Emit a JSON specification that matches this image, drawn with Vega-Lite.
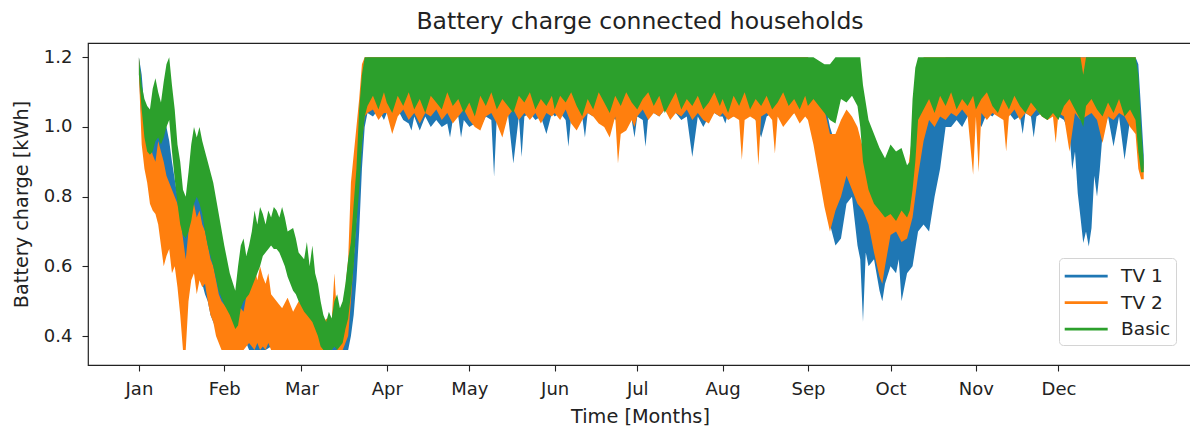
{
"$schema":"https://vega.github.io/schema/vega-lite/v6.json",
"width":1104,"height":322,
"autosize":{"type":"none"},
"padding":{"left":88,"top":43,"right":-2,"bottom":65},
"background":"white",
"title":{"text":"Battery charge connected households","fontSize":23.5,"fontWeight":"normal","font":"DejaVu Sans","color":"#222","anchor":"middle","frame":"group","baseline":"alphabetic","offset":15,"dy":24},
"datasets":{
"tv1":[
{"d":"2019-01-01","lo":1.15,"hi":1.2},{"d":"2019-01-02","lo":1.0,"hi":1.15},{"d":"2019-01-03","lo":0.92,"hi":1.05},{"d":"2019-01-04","lo":0.86,"hi":1.0},{"d":"2019-01-06","lo":0.85,"hi":1.0},{"d":"2019-01-08","lo":0.85,"hi":1.0},{"d":"2019-01-09","lo":0.8,"hi":1.03},{"d":"2019-01-10","lo":0.84,"hi":1.05},{"d":"2019-01-11","lo":0.82,"hi":1.0},{"d":"2019-01-12","lo":0.74,"hi":0.96},{"d":"2019-01-13","lo":0.7,"hi":0.9},{"d":"2019-01-14","lo":0.64,"hi":0.85},{"d":"2019-01-15","lo":0.6,"hi":0.8},{"d":"2019-01-16","lo":0.56,"hi":0.72},{"d":"2019-01-17","lo":0.58,"hi":0.7},{"d":"2019-01-18","lo":0.58,"hi":0.74},{"d":"2019-01-19","lo":0.6,"hi":0.8},{"d":"2019-01-20","lo":0.62,"hi":0.84},{"d":"2019-01-21","lo":0.62,"hi":0.86},{"d":"2019-01-22","lo":0.6,"hi":0.82},{"d":"2019-01-23","lo":0.58,"hi":0.8},{"d":"2019-01-24","lo":0.55,"hi":0.76},{"d":"2019-01-25","lo":0.52,"hi":0.72},{"d":"2019-01-26","lo":0.5,"hi":0.68},{"d":"2019-01-27","lo":0.46,"hi":0.64},{"d":"2019-01-29","lo":0.42,"hi":0.58},{"d":"2019-01-31","lo":0.4,"hi":0.54},
{"d":"2019-02-02","lo":0.38,"hi":0.52},{"d":"2019-02-04","lo":0.38,"hi":0.5},{"d":"2019-02-06","lo":0.36,"hi":0.54},{"d":"2019-02-08","lo":0.4,"hi":0.55},{"d":"2019-02-10","lo":0.36,"hi":0.53},{"d":"2019-02-12","lo":0.36,"hi":0.54},{"d":"2019-02-14","lo":0.36,"hi":0.5},{"d":"2019-02-16","lo":0.36,"hi":0.48},{"d":"2019-02-18","lo":0.37,"hi":0.46},{"d":"2019-02-20","lo":0.38,"hi":0.49},{"d":"2019-02-22","lo":0.38,"hi":0.48},{"d":"2019-02-24","lo":0.37,"hi":0.47},{"d":"2019-02-26","lo":0.37,"hi":0.46},{"d":"2019-02-28","lo":0.36,"hi":0.44},
{"d":"2019-03-04","lo":0.36,"hi":0.44},{"d":"2019-03-08","lo":0.36,"hi":0.43},{"d":"2019-03-12","lo":0.36,"hi":0.44},{"d":"2019-03-16","lo":0.36,"hi":0.45},{"d":"2019-03-18","lo":0.36,"hi":0.5},{"d":"2019-03-19","lo":0.4,"hi":0.55},{"d":"2019-03-20","lo":0.46,"hi":0.62},{"d":"2019-03-21","lo":0.56,"hi":0.74},{"d":"2019-03-22","lo":0.7,"hi":0.9},{"d":"2019-03-23","lo":0.88,"hi":1.05},{"d":"2019-03-24","lo":1.0,"hi":1.15},{"d":"2019-03-25","lo":1.04,"hi":1.2},{"d":"2019-03-27","lo":1.03,"hi":1.2},{"d":"2019-03-29","lo":1.05,"hi":1.2},{"d":"2019-03-31","lo":1.02,"hi":1.2},
{"d":"2019-04-01","lo":1.04,"hi":1.2},{"d":"2019-04-03","lo":1.03,"hi":1.2},{"d":"2019-04-05","lo":1.05,"hi":1.2},{"d":"2019-04-07","lo":1.02,"hi":1.2},{"d":"2019-04-09","lo":1.01,"hi":1.2},{"d":"2019-04-10","lo":0.99,"hi":1.2},{"d":"2019-04-11","lo":1.03,"hi":1.2},{"d":"2019-04-13","lo":0.99,"hi":1.2},{"d":"2019-04-15","lo":1.03,"hi":1.2},{"d":"2019-04-17","lo":1.0,"hi":1.2},{"d":"2019-04-19","lo":1.02,"hi":1.2},{"d":"2019-04-21","lo":1.0,"hi":1.2},{"d":"2019-04-23","lo":1.01,"hi":1.2},{"d":"2019-04-24","lo":0.97,"hi":1.2},{"d":"2019-04-25","lo":1.02,"hi":1.2},{"d":"2019-04-27","lo":1.03,"hi":1.2},{"d":"2019-04-28","lo":0.97,"hi":1.2},{"d":"2019-04-29","lo":1.02,"hi":1.2},
{"d":"2019-05-01","lo":1.0,"hi":1.2},{"d":"2019-05-03","lo":1.01,"hi":1.2},{"d":"2019-05-05","lo":1.0,"hi":1.2},{"d":"2019-05-07","lo":1.03,"hi":1.2},{"d":"2019-05-09","lo":1.02,"hi":1.2},{"d":"2019-05-10","lo":0.857,"hi":1.2},{"d":"2019-05-11","lo":1.03,"hi":1.2},{"d":"2019-05-13","lo":1.02,"hi":1.2},{"d":"2019-05-15","lo":1.04,"hi":1.2},{"d":"2019-05-17","lo":0.895,"hi":1.2},{"d":"2019-05-19","lo":1.03,"hi":1.2},{"d":"2019-05-20","lo":0.914,"hi":1.2},{"d":"2019-05-21","lo":1.03,"hi":1.2},{"d":"2019-05-23","lo":1.04,"hi":1.2},{"d":"2019-05-25","lo":1.02,"hi":1.2},{"d":"2019-05-27","lo":1.03,"hi":1.2},{"d":"2019-05-29","lo":0.98,"hi":1.2},{"d":"2019-05-31","lo":1.04,"hi":1.2},
{"d":"2019-06-01","lo":1.03,"hi":1.2},{"d":"2019-06-03","lo":1.04,"hi":1.2},{"d":"2019-06-05","lo":1.02,"hi":1.2},{"d":"2019-06-06","lo":0.943,"hi":1.2},{"d":"2019-06-07","lo":1.03,"hi":1.2},{"d":"2019-06-09","lo":1.04,"hi":1.2},{"d":"2019-06-11","lo":1.03,"hi":1.2},{"d":"2019-06-12","lo":0.97,"hi":1.2},{"d":"2019-06-13","lo":1.04,"hi":1.2},{"d":"2019-06-15","lo":1.03,"hi":1.2},{"d":"2019-06-17","lo":1.05,"hi":1.2},{"d":"2019-06-19","lo":1.03,"hi":1.2},{"d":"2019-06-21","lo":1.04,"hi":1.2},{"d":"2019-06-23","lo":1.02,"hi":1.2},{"d":"2019-06-25","lo":1.04,"hi":1.2},{"d":"2019-06-27","lo":1.03,"hi":1.2},{"d":"2019-06-29","lo":1.02,"hi":1.2},{"d":"2019-06-30","lo":0.97,"hi":1.2},
{"d":"2019-07-01","lo":1.03,"hi":1.2},{"d":"2019-07-03","lo":1.02,"hi":1.2},{"d":"2019-07-04","lo":0.943,"hi":1.2},{"d":"2019-07-05","lo":1.03,"hi":1.2},{"d":"2019-07-07","lo":1.04,"hi":1.2},{"d":"2019-07-09","lo":1.03,"hi":1.2},{"d":"2019-07-11","lo":1.05,"hi":1.2},{"d":"2019-07-13","lo":1.03,"hi":1.2},{"d":"2019-07-15","lo":1.04,"hi":1.2},{"d":"2019-07-17","lo":1.02,"hi":1.2},{"d":"2019-07-19","lo":1.03,"hi":1.2},{"d":"2019-07-21","lo":0.914,"hi":1.2},{"d":"2019-07-23","lo":1.03,"hi":1.2},{"d":"2019-07-25","lo":1.0,"hi":1.2},{"d":"2019-07-27","lo":1.03,"hi":1.2},{"d":"2019-07-29","lo":1.04,"hi":1.2},{"d":"2019-07-31","lo":1.03,"hi":1.2},
{"d":"2019-08-01","lo":1.03,"hi":1.2},{"d":"2019-08-02","lo":1.01,"hi":1.2},{"d":"2019-08-03","lo":1.04,"hi":1.2},{"d":"2019-08-05","lo":1.03,"hi":1.2},{"d":"2019-08-07","lo":1.04,"hi":1.2},{"d":"2019-08-09","lo":1.03,"hi":1.2},{"d":"2019-08-11","lo":1.04,"hi":1.2},{"d":"2019-08-13","lo":1.02,"hi":1.2},{"d":"2019-08-15","lo":0.97,"hi":1.2},{"d":"2019-08-17","lo":1.03,"hi":1.2},{"d":"2019-08-19","lo":1.04,"hi":1.2},{"d":"2019-08-21","lo":1.03,"hi":1.2},{"d":"2019-08-23","lo":1.04,"hi":1.2},{"d":"2019-08-25","lo":1.03,"hi":1.2},{"d":"2019-08-27","lo":1.04,"hi":1.2},{"d":"2019-08-29","lo":1.03,"hi":1.2},{"d":"2019-08-31","lo":1.04,"hi":1.2},
{"d":"2019-09-01","lo":1.04,"hi":1.2},{"d":"2019-09-03","lo":1.0,"hi":1.18},{"d":"2019-09-05","lo":0.93,"hi":1.15},{"d":"2019-09-07","lo":0.82,"hi":1.08},{"d":"2019-09-09","lo":0.72,"hi":1.0},{"d":"2019-09-11","lo":0.66,"hi":0.95},{"d":"2019-09-13","lo":0.68,"hi":0.95},{"d":"2019-09-15","lo":0.78,"hi":1.0},{"d":"2019-09-17","lo":0.8,"hi":1.0},{"d":"2019-09-19","lo":0.66,"hi":0.92},{"d":"2019-09-20","lo":0.62,"hi":0.9},{"d":"2019-09-21","lo":0.44,"hi":0.88},{"d":"2019-09-22","lo":0.64,"hi":0.86},{"d":"2019-09-23","lo":0.6,"hi":0.85},{"d":"2019-09-25","lo":0.62,"hi":0.82},{"d":"2019-09-27","lo":0.53,"hi":0.76},{"d":"2019-09-28","lo":0.5,"hi":0.72},{"d":"2019-09-29","lo":0.55,"hi":0.74},
{"d":"2019-10-01","lo":0.6,"hi":0.74},{"d":"2019-10-03","lo":0.58,"hi":0.74},{"d":"2019-10-04","lo":0.62,"hi":0.76},{"d":"2019-10-05","lo":0.5,"hi":0.74},{"d":"2019-10-07","lo":0.58,"hi":0.78},{"d":"2019-10-09","lo":0.6,"hi":0.85},{"d":"2019-10-11","lo":0.7,"hi":0.92},{"d":"2019-10-13","lo":0.72,"hi":0.98},{"d":"2019-10-15","lo":0.7,"hi":1.05},{"d":"2019-10-17","lo":0.8,"hi":1.1},{"d":"2019-10-19","lo":0.88,"hi":1.15},{"d":"2019-10-21","lo":1.0,"hi":1.2},{"d":"2019-10-23","lo":1.0,"hi":1.2},{"d":"2019-10-25","lo":1.02,"hi":1.2},{"d":"2019-10-27","lo":1.0,"hi":1.2},{"d":"2019-10-29","lo":1.03,"hi":1.2},{"d":"2019-10-31","lo":1.04,"hi":1.2},
{"d":"2019-11-01","lo":1.03,"hi":1.2},{"d":"2019-11-03","lo":1.0,"hi":1.2},{"d":"2019-11-05","lo":1.04,"hi":1.2},{"d":"2019-11-07","lo":1.03,"hi":1.2},{"d":"2019-11-09","lo":1.05,"hi":1.2},{"d":"2019-11-11","lo":1.03,"hi":1.2},{"d":"2019-11-13","lo":1.04,"hi":1.2},{"d":"2019-11-15","lo":1.02,"hi":1.2},{"d":"2019-11-17","lo":1.03,"hi":1.2},{"d":"2019-11-18","lo":0.98,"hi":1.2},{"d":"2019-11-19","lo":1.04,"hi":1.2},{"d":"2019-11-21","lo":1.03,"hi":1.2},{"d":"2019-11-22","lo":0.97,"hi":1.2},{"d":"2019-11-23","lo":1.03,"hi":1.2},{"d":"2019-11-25","lo":1.04,"hi":1.2},{"d":"2019-11-27","lo":1.02,"hi":1.2},{"d":"2019-11-29","lo":1.04,"hi":1.2},
{"d":"2019-12-01","lo":1.03,"hi":1.2},{"d":"2019-12-03","lo":1.02,"hi":1.2},{"d":"2019-12-05","lo":0.98,"hi":1.2},{"d":"2019-12-06","lo":0.877,"hi":1.2},{"d":"2019-12-07","lo":0.93,"hi":1.2},{"d":"2019-12-08","lo":0.81,"hi":1.2},{"d":"2019-12-09","lo":0.74,"hi":1.2},{"d":"2019-12-10","lo":0.667,"hi":1.2},{"d":"2019-12-11","lo":0.7,"hi":1.2},{"d":"2019-12-12","lo":0.657,"hi":1.2},{"d":"2019-12-13","lo":0.71,"hi":1.2},{"d":"2019-12-14","lo":0.86,"hi":1.2},{"d":"2019-12-15","lo":0.8,"hi":1.2},{"d":"2019-12-16","lo":0.877,"hi":1.2},{"d":"2019-12-17","lo":0.98,"hi":1.2},{"d":"2019-12-19","lo":1.03,"hi":1.2},{"d":"2019-12-21","lo":0.944,"hi":1.2},{"d":"2019-12-23","lo":1.03,"hi":1.2},{"d":"2019-12-25","lo":0.906,"hi":1.2},{"d":"2019-12-27","lo":1.02,"hi":1.2},{"d":"2019-12-29","lo":1.0,"hi":1.2},{"d":"2019-12-30","lo":0.95,"hi":1.18},{"d":"2019-12-31","lo":0.88,"hi":1.05},{"d":"2019-12-31T23:00","lo":0.88,"hi":0.92}
],
"tv2":[
{"d":"2019-01-01","lo":1.15,"hi":1.2},{"d":"2019-01-02","lo":0.95,"hi":1.1},{"d":"2019-01-03","lo":0.88,"hi":1.0},{"d":"2019-01-04","lo":0.84,"hi":0.98},{"d":"2019-01-05","lo":0.78,"hi":0.95},{"d":"2019-01-06","lo":0.76,"hi":0.92},{"d":"2019-01-07","lo":0.75,"hi":0.9},{"d":"2019-01-08","lo":0.72,"hi":0.96},{"d":"2019-01-09","lo":0.66,"hi":0.93},{"d":"2019-01-10","lo":0.6,"hi":0.9},{"d":"2019-01-11","lo":0.63,"hi":0.86},{"d":"2019-01-12","lo":0.65,"hi":0.84},{"d":"2019-01-13","lo":0.58,"hi":0.82},{"d":"2019-01-14","lo":0.6,"hi":0.8},{"d":"2019-01-15","lo":0.54,"hi":0.78},{"d":"2019-01-16","lo":0.46,"hi":0.74},{"d":"2019-01-17","lo":0.36,"hi":0.68},{"d":"2019-01-18","lo":0.36,"hi":0.62},{"d":"2019-01-19","lo":0.5,"hi":0.7},{"d":"2019-01-20","lo":0.56,"hi":0.76},{"d":"2019-01-21","lo":0.58,"hi":0.78},{"d":"2019-01-22","lo":0.52,"hi":0.74},{"d":"2019-01-23","lo":0.56,"hi":0.76},{"d":"2019-01-24","lo":0.54,"hi":0.72},{"d":"2019-01-25","lo":0.55,"hi":0.7},{"d":"2019-01-26","lo":0.5,"hi":0.66},{"d":"2019-01-27","lo":0.46,"hi":0.62},{"d":"2019-01-28","lo":0.44,"hi":0.6},{"d":"2019-01-29","lo":0.4,"hi":0.56},{"d":"2019-01-30","lo":0.38,"hi":0.52},{"d":"2019-01-31","lo":0.36,"hi":0.5},
{"d":"2019-02-02","lo":0.36,"hi":0.48},{"d":"2019-02-04","lo":0.36,"hi":0.46},{"d":"2019-02-06","lo":0.36,"hi":0.49},{"d":"2019-02-08","lo":0.36,"hi":0.47},{"d":"2019-02-10","lo":0.38,"hi":0.56},{"d":"2019-02-11","lo":0.37,"hi":0.58},{"d":"2019-02-12","lo":0.36,"hi":0.6},{"d":"2019-02-13","lo":0.38,"hi":0.56},{"d":"2019-02-14","lo":0.36,"hi":0.6},{"d":"2019-02-15","lo":0.37,"hi":0.57},{"d":"2019-02-16","lo":0.36,"hi":0.55},{"d":"2019-02-17","lo":0.38,"hi":0.58},{"d":"2019-02-18","lo":0.36,"hi":0.52},{"d":"2019-02-20","lo":0.36,"hi":0.5},{"d":"2019-02-22","lo":0.36,"hi":0.48},{"d":"2019-02-24","lo":0.36,"hi":0.51},{"d":"2019-02-26","lo":0.36,"hi":0.47},{"d":"2019-02-28","lo":0.36,"hi":0.5},
{"d":"2019-03-02","lo":0.36,"hi":0.48},{"d":"2019-03-04","lo":0.36,"hi":0.46},{"d":"2019-03-06","lo":0.36,"hi":0.44},{"d":"2019-03-08","lo":0.36,"hi":0.42},{"d":"2019-03-10","lo":0.36,"hi":0.45},{"d":"2019-03-12","lo":0.36,"hi":0.44},{"d":"2019-03-13","lo":0.38,"hi":0.58},{"d":"2019-03-14","lo":0.36,"hi":0.45},{"d":"2019-03-16","lo":0.36,"hi":0.46},{"d":"2019-03-18","lo":0.4,"hi":0.62},{"d":"2019-03-19","lo":0.5,"hi":0.84},{"d":"2019-03-20","lo":0.62,"hi":0.92},{"d":"2019-03-21","lo":0.75,"hi":1.0},{"d":"2019-03-22","lo":0.86,"hi":1.08},{"d":"2019-03-23","lo":0.96,"hi":1.18},{"d":"2019-03-24","lo":1.03,"hi":1.2},{"d":"2019-03-25","lo":1.04,"hi":1.2},{"d":"2019-03-27","lo":1.05,"hi":1.2},{"d":"2019-03-29","lo":1.02,"hi":1.2},{"d":"2019-03-31","lo":1.04,"hi":1.2},
{"d":"2019-04-01","lo":1.04,"hi":1.2},{"d":"2019-04-03","lo":0.98,"hi":1.2},{"d":"2019-04-05","lo":1.03,"hi":1.2},{"d":"2019-04-07","lo":1.05,"hi":1.2},{"d":"2019-04-09","lo":1.02,"hi":1.2},{"d":"2019-04-11","lo":1.04,"hi":1.2},{"d":"2019-04-13","lo":1.01,"hi":1.2},{"d":"2019-04-15","lo":1.04,"hi":1.2},{"d":"2019-04-17","lo":1.03,"hi":1.2},{"d":"2019-04-19","lo":1.05,"hi":1.2},{"d":"2019-04-21","lo":1.02,"hi":1.2},{"d":"2019-04-23","lo":1.04,"hi":1.2},{"d":"2019-04-25","lo":1.01,"hi":1.2},{"d":"2019-04-27","lo":1.03,"hi":1.2},{"d":"2019-04-29","lo":1.05,"hi":1.2},
{"d":"2019-05-01","lo":1.02,"hi":1.2},{"d":"2019-05-03","lo":1.0,"hi":1.2},{"d":"2019-05-05","lo":0.99,"hi":1.2},{"d":"2019-05-07","lo":1.03,"hi":1.2},{"d":"2019-05-09","lo":1.04,"hi":1.2},{"d":"2019-05-11","lo":1.01,"hi":1.2},{"d":"2019-05-13","lo":0.97,"hi":1.2},{"d":"2019-05-15","lo":1.03,"hi":1.2},{"d":"2019-05-17","lo":1.05,"hi":1.2},{"d":"2019-05-19","lo":1.02,"hi":1.2},{"d":"2019-05-21","lo":1.04,"hi":1.2},{"d":"2019-05-23","lo":1.02,"hi":1.2},{"d":"2019-05-25","lo":1.04,"hi":1.2},{"d":"2019-05-27","lo":1.01,"hi":1.2},{"d":"2019-05-29","lo":1.04,"hi":1.2},{"d":"2019-05-31","lo":1.03,"hi":1.2},
{"d":"2019-06-01","lo":1.04,"hi":1.2},{"d":"2019-06-03","lo":1.02,"hi":1.2},{"d":"2019-06-05","lo":1.05,"hi":1.2},{"d":"2019-06-07","lo":1.01,"hi":1.2},{"d":"2019-06-09","lo":0.99,"hi":1.2},{"d":"2019-06-11","lo":1.02,"hi":1.2},{"d":"2019-06-13","lo":1.04,"hi":1.2},{"d":"2019-06-15","lo":1.03,"hi":1.2},{"d":"2019-06-17","lo":1.01,"hi":1.2},{"d":"2019-06-19","lo":1.0,"hi":1.2},{"d":"2019-06-21","lo":0.97,"hi":1.2},{"d":"2019-06-23","lo":1.03,"hi":1.2},{"d":"2019-06-24","lo":0.895,"hi":1.2},{"d":"2019-06-25","lo":0.98,"hi":1.2},{"d":"2019-06-27","lo":0.99,"hi":1.2},{"d":"2019-06-29","lo":1.02,"hi":1.2},{"d":"2019-06-30","lo":1.0,"hi":1.2},
{"d":"2019-07-01","lo":1.03,"hi":1.2},{"d":"2019-07-03","lo":1.05,"hi":1.2},{"d":"2019-07-05","lo":1.02,"hi":1.2},{"d":"2019-07-07","lo":1.04,"hi":1.2},{"d":"2019-07-09","lo":1.03,"hi":1.2},{"d":"2019-07-11","lo":1.05,"hi":1.2},{"d":"2019-07-13","lo":1.02,"hi":1.2},{"d":"2019-07-15","lo":1.04,"hi":1.2},{"d":"2019-07-17","lo":1.03,"hi":1.2},{"d":"2019-07-19","lo":1.05,"hi":1.2},{"d":"2019-07-21","lo":1.02,"hi":1.2},{"d":"2019-07-23","lo":1.04,"hi":1.2},{"d":"2019-07-25","lo":1.02,"hi":1.2},{"d":"2019-07-27","lo":1.01,"hi":1.2},{"d":"2019-07-29","lo":1.04,"hi":1.2},{"d":"2019-07-31","lo":1.03,"hi":1.2},
{"d":"2019-08-01","lo":1.04,"hi":1.2},{"d":"2019-08-03","lo":1.02,"hi":1.2},{"d":"2019-08-05","lo":1.03,"hi":1.2},{"d":"2019-08-07","lo":1.02,"hi":1.2},{"d":"2019-08-08","lo":0.905,"hi":1.2},{"d":"2019-08-09","lo":1.02,"hi":1.2},{"d":"2019-08-11","lo":1.03,"hi":1.2},{"d":"2019-08-13","lo":1.02,"hi":1.2},{"d":"2019-08-14","lo":0.89,"hi":1.2},{"d":"2019-08-15","lo":1.03,"hi":1.2},{"d":"2019-08-17","lo":1.04,"hi":1.2},{"d":"2019-08-19","lo":1.02,"hi":1.2},{"d":"2019-08-20","lo":0.924,"hi":1.2},{"d":"2019-08-21","lo":1.03,"hi":1.2},{"d":"2019-08-23","lo":1.0,"hi":1.2},{"d":"2019-08-25","lo":1.02,"hi":1.2},{"d":"2019-08-27","lo":1.04,"hi":1.2},{"d":"2019-08-29","lo":1.01,"hi":1.2},{"d":"2019-08-31","lo":1.03,"hi":1.2},
{"d":"2019-09-01","lo":1.02,"hi":1.2},{"d":"2019-09-03","lo":0.95,"hi":1.15},{"d":"2019-09-05","lo":0.86,"hi":1.12},{"d":"2019-09-07","lo":0.77,"hi":1.05},{"d":"2019-09-09","lo":0.7,"hi":0.98},{"d":"2019-09-11","lo":0.76,"hi":0.98},{"d":"2019-09-13","lo":0.8,"hi":1.02},{"d":"2019-09-15","lo":0.86,"hi":1.05},{"d":"2019-09-17","lo":0.82,"hi":1.03},{"d":"2019-09-19","lo":0.78,"hi":1.0},{"d":"2019-09-21","lo":0.76,"hi":0.94},{"d":"2019-09-23","lo":0.72,"hi":0.9},{"d":"2019-09-25","lo":0.64,"hi":0.84},{"d":"2019-09-27","lo":0.57,"hi":0.8},{"d":"2019-09-28","lo":0.55,"hi":0.78},{"d":"2019-09-29","lo":0.6,"hi":0.8},
{"d":"2019-10-01","lo":0.69,"hi":0.81},{"d":"2019-10-03","lo":0.7,"hi":0.78},{"d":"2019-10-05","lo":0.67,"hi":0.8},{"d":"2019-10-07","lo":0.68,"hi":0.86},{"d":"2019-10-09","lo":0.74,"hi":0.98},{"d":"2019-10-11","lo":0.86,"hi":1.1},{"d":"2019-10-13","lo":0.96,"hi":1.2},{"d":"2019-10-15","lo":1.02,"hi":1.2},{"d":"2019-10-17","lo":1.0,"hi":1.2},{"d":"2019-10-19","lo":1.03,"hi":1.2},{"d":"2019-10-21","lo":1.02,"hi":1.2},{"d":"2019-10-23","lo":1.04,"hi":1.2},{"d":"2019-10-25","lo":1.03,"hi":1.2},{"d":"2019-10-27","lo":1.05,"hi":1.2},{"d":"2019-10-29","lo":1.03,"hi":1.2},{"d":"2019-10-31","lo":0.863,"hi":1.2},
{"d":"2019-11-01","lo":1.03,"hi":1.2},{"d":"2019-11-02","lo":0.87,"hi":1.2},{"d":"2019-11-03","lo":1.04,"hi":1.2},{"d":"2019-11-05","lo":1.02,"hi":1.2},{"d":"2019-11-07","lo":1.04,"hi":1.2},{"d":"2019-11-09","lo":1.03,"hi":1.2},{"d":"2019-11-11","lo":1.02,"hi":1.2},{"d":"2019-11-12","lo":0.93,"hi":1.2},{"d":"2019-11-13","lo":1.03,"hi":1.2},{"d":"2019-11-15","lo":1.05,"hi":1.2},{"d":"2019-11-17","lo":1.02,"hi":1.2},{"d":"2019-11-19","lo":1.04,"hi":1.2},{"d":"2019-11-21","lo":1.03,"hi":1.2},{"d":"2019-11-23","lo":1.05,"hi":1.2},{"d":"2019-11-25","lo":1.03,"hi":1.2},{"d":"2019-11-27","lo":1.02,"hi":1.2},{"d":"2019-11-29","lo":1.03,"hi":1.2},{"d":"2019-11-30","lo":0.954,"hi":1.2},
{"d":"2019-12-01","lo":1.04,"hi":1.2},{"d":"2019-12-03","lo":1.03,"hi":1.2},{"d":"2019-12-05","lo":0.93,"hi":1.2},{"d":"2019-12-07","lo":1.04,"hi":1.2},{"d":"2019-12-09","lo":1.02,"hi":1.2},{"d":"2019-12-11","lo":1.03,"hi":1.2},{"d":"2019-12-13","lo":1.04,"hi":1.2},{"d":"2019-12-15","lo":1.02,"hi":1.2},{"d":"2019-12-17","lo":0.954,"hi":1.2},{"d":"2019-12-19","lo":1.03,"hi":1.2},{"d":"2019-12-21","lo":1.02,"hi":1.2},{"d":"2019-12-23","lo":1.04,"hi":1.2},{"d":"2019-12-25","lo":1.03,"hi":1.2},{"d":"2019-12-27","lo":1.0,"hi":1.2},{"d":"2019-12-29","lo":0.98,"hi":1.2},{"d":"2019-12-30","lo":0.88,"hi":1.1},{"d":"2019-12-31","lo":0.85,"hi":0.95},{"d":"2019-12-31T23:00","lo":0.85,"hi":0.88}
],
"basic":[
{"d":"2019-01-01","lo":1.15,"hi":1.2},{"d":"2019-01-02","lo":1.05,"hi":1.12},{"d":"2019-01-03","lo":0.97,"hi":1.08},{"d":"2019-01-04","lo":0.93,"hi":1.06},{"d":"2019-01-05","lo":0.92,"hi":1.05},{"d":"2019-01-06","lo":0.93,"hi":1.11},{"d":"2019-01-07","lo":0.96,"hi":1.14},{"d":"2019-01-08","lo":0.97,"hi":1.1},{"d":"2019-01-09","lo":0.95,"hi":1.07},{"d":"2019-01-10","lo":0.97,"hi":1.13},{"d":"2019-01-11","lo":1.0,"hi":1.18},{"d":"2019-01-12","lo":1.02,"hi":1.2},{"d":"2019-01-13","lo":0.93,"hi":1.12},{"d":"2019-01-14","lo":0.85,"hi":1.05},{"d":"2019-01-15","lo":0.78,"hi":0.95},{"d":"2019-01-16","lo":0.72,"hi":0.9},{"d":"2019-01-17","lo":0.69,"hi":0.82},{"d":"2019-01-18","lo":0.68,"hi":0.8},{"d":"2019-01-19","lo":0.7,"hi":0.87},{"d":"2019-01-20","lo":0.73,"hi":0.95},{"d":"2019-01-21","lo":0.78,"hi":1.0},{"d":"2019-01-22","lo":0.8,"hi":0.97},{"d":"2019-01-23","lo":0.78,"hi":1.0},{"d":"2019-01-24","lo":0.75,"hi":0.96},{"d":"2019-01-25","lo":0.7,"hi":0.93},{"d":"2019-01-26","lo":0.66,"hi":0.9},{"d":"2019-01-28","lo":0.6,"hi":0.84},{"d":"2019-01-30","lo":0.53,"hi":0.75},
{"d":"2019-02-01","lo":0.49,"hi":0.66},{"d":"2019-02-03","lo":0.46,"hi":0.58},{"d":"2019-02-05","lo":0.42,"hi":0.53},{"d":"2019-02-06","lo":0.43,"hi":0.6},{"d":"2019-02-07","lo":0.48,"hi":0.66},{"d":"2019-02-08","lo":0.5,"hi":0.68},{"d":"2019-02-09","lo":0.51,"hi":0.63},{"d":"2019-02-10","lo":0.52,"hi":0.66},{"d":"2019-02-11","lo":0.54,"hi":0.7},{"d":"2019-02-12","lo":0.56,"hi":0.76},{"d":"2019-02-13","lo":0.58,"hi":0.72},{"d":"2019-02-14","lo":0.6,"hi":0.77},{"d":"2019-02-15","lo":0.63,"hi":0.75},{"d":"2019-02-16","lo":0.64,"hi":0.72},{"d":"2019-02-17","lo":0.65,"hi":0.76},{"d":"2019-02-18","lo":0.66,"hi":0.74},{"d":"2019-02-19","lo":0.65,"hi":0.77},{"d":"2019-02-20","lo":0.65,"hi":0.76},{"d":"2019-02-21","lo":0.64,"hi":0.74},{"d":"2019-02-22","lo":0.62,"hi":0.77},{"d":"2019-02-23","lo":0.6,"hi":0.74},{"d":"2019-02-24","lo":0.57,"hi":0.7},{"d":"2019-02-26","lo":0.53,"hi":0.71},{"d":"2019-02-27","lo":0.52,"hi":0.68},{"d":"2019-02-28","lo":0.5,"hi":0.64},
{"d":"2019-03-02","lo":0.47,"hi":0.62},{"d":"2019-03-03","lo":0.46,"hi":0.67},{"d":"2019-03-04","lo":0.45,"hi":0.6},{"d":"2019-03-05","lo":0.44,"hi":0.66},{"d":"2019-03-06","lo":0.42,"hi":0.58},{"d":"2019-03-07","lo":0.4,"hi":0.55},{"d":"2019-03-08","lo":0.37,"hi":0.5},{"d":"2019-03-09","lo":0.36,"hi":0.46},{"d":"2019-03-10","lo":0.36,"hi":0.44},{"d":"2019-03-11","lo":0.36,"hi":0.47},{"d":"2019-03-12","lo":0.36,"hi":0.45},{"d":"2019-03-13","lo":0.37,"hi":0.5},{"d":"2019-03-14","lo":0.36,"hi":0.52},{"d":"2019-03-15","lo":0.37,"hi":0.48},{"d":"2019-03-16","lo":0.38,"hi":0.5},{"d":"2019-03-17","lo":0.42,"hi":0.55},{"d":"2019-03-18","lo":0.45,"hi":0.62},{"d":"2019-03-19","lo":0.52,"hi":0.67},{"d":"2019-03-20","lo":0.6,"hi":0.78},{"d":"2019-03-21","lo":0.72,"hi":0.88},{"d":"2019-03-22","lo":0.82,"hi":1.05},{"d":"2019-03-23","lo":0.95,"hi":1.15},{"d":"2019-03-24","lo":1.03,"hi":1.2},{"d":"2019-03-25","lo":1.06,"hi":1.2},{"d":"2019-03-27","lo":1.09,"hi":1.2},{"d":"2019-03-29","lo":1.05,"hi":1.2},{"d":"2019-03-31","lo":1.1,"hi":1.2},
{"d":"2019-04-01","lo":1.07,"hi":1.2},{"d":"2019-04-03","lo":1.04,"hi":1.2},{"d":"2019-04-05","lo":1.09,"hi":1.2},{"d":"2019-04-07","lo":1.06,"hi":1.2},{"d":"2019-04-09","lo":1.1,"hi":1.2},{"d":"2019-04-11","lo":1.05,"hi":1.2},{"d":"2019-04-13","lo":1.08,"hi":1.2},{"d":"2019-04-15","lo":1.04,"hi":1.2},{"d":"2019-04-17","lo":1.09,"hi":1.2},{"d":"2019-04-19","lo":1.07,"hi":1.2},{"d":"2019-04-21","lo":1.05,"hi":1.2},{"d":"2019-04-23","lo":1.1,"hi":1.2},{"d":"2019-04-25","lo":1.06,"hi":1.2},{"d":"2019-04-27","lo":1.08,"hi":1.2},{"d":"2019-04-29","lo":1.04,"hi":1.2},
{"d":"2019-05-01","lo":1.07,"hi":1.2},{"d":"2019-05-03","lo":1.03,"hi":1.2},{"d":"2019-05-05","lo":1.09,"hi":1.2},{"d":"2019-05-07","lo":1.06,"hi":1.2},{"d":"2019-05-09","lo":1.1,"hi":1.2},{"d":"2019-05-11","lo":1.05,"hi":1.2},{"d":"2019-05-13","lo":1.08,"hi":1.2},{"d":"2019-05-15","lo":1.06,"hi":1.2},{"d":"2019-05-17","lo":1.04,"hi":1.2},{"d":"2019-05-19","lo":1.09,"hi":1.2},{"d":"2019-05-21","lo":1.07,"hi":1.2},{"d":"2019-05-23","lo":1.1,"hi":1.2},{"d":"2019-05-25","lo":1.05,"hi":1.2},{"d":"2019-05-27","lo":1.08,"hi":1.2},{"d":"2019-05-29","lo":1.06,"hi":1.2},{"d":"2019-05-31","lo":1.09,"hi":1.2},
{"d":"2019-06-01","lo":1.05,"hi":1.2},{"d":"2019-06-03","lo":1.09,"hi":1.2},{"d":"2019-06-05","lo":1.07,"hi":1.2},{"d":"2019-06-07","lo":1.1,"hi":1.2},{"d":"2019-06-09","lo":1.06,"hi":1.2},{"d":"2019-06-11","lo":1.03,"hi":1.2},{"d":"2019-06-13","lo":1.08,"hi":1.2},{"d":"2019-06-15","lo":1.05,"hi":1.2},{"d":"2019-06-17","lo":1.1,"hi":1.2},{"d":"2019-06-19","lo":1.07,"hi":1.2},{"d":"2019-06-21","lo":1.04,"hi":1.2},{"d":"2019-06-23","lo":1.09,"hi":1.2},{"d":"2019-06-25","lo":1.06,"hi":1.2},{"d":"2019-06-27","lo":1.1,"hi":1.2},{"d":"2019-06-29","lo":1.07,"hi":1.2},
{"d":"2019-07-01","lo":1.05,"hi":1.2},{"d":"2019-07-03","lo":1.08,"hi":1.2},{"d":"2019-07-05","lo":1.1,"hi":1.2},{"d":"2019-07-07","lo":1.06,"hi":1.2},{"d":"2019-07-09","lo":1.09,"hi":1.2},{"d":"2019-07-11","lo":1.04,"hi":1.2},{"d":"2019-07-13","lo":1.07,"hi":1.2},{"d":"2019-07-15","lo":1.1,"hi":1.2},{"d":"2019-07-17","lo":1.05,"hi":1.2},{"d":"2019-07-19","lo":1.08,"hi":1.2},{"d":"2019-07-21","lo":1.06,"hi":1.2},{"d":"2019-07-23","lo":1.09,"hi":1.2},{"d":"2019-07-25","lo":1.05,"hi":1.2},{"d":"2019-07-27","lo":1.07,"hi":1.2},{"d":"2019-07-29","lo":1.1,"hi":1.2},{"d":"2019-07-31","lo":1.06,"hi":1.2},
{"d":"2019-08-01","lo":1.08,"hi":1.2},{"d":"2019-08-03","lo":1.04,"hi":1.2},{"d":"2019-08-05","lo":1.09,"hi":1.2},{"d":"2019-08-07","lo":1.06,"hi":1.2},{"d":"2019-08-09","lo":1.1,"hi":1.2},{"d":"2019-08-11","lo":1.05,"hi":1.2},{"d":"2019-08-13","lo":1.08,"hi":1.2},{"d":"2019-08-15","lo":1.06,"hi":1.2},{"d":"2019-08-17","lo":1.09,"hi":1.2},{"d":"2019-08-19","lo":1.05,"hi":1.2},{"d":"2019-08-21","lo":1.07,"hi":1.2},{"d":"2019-08-23","lo":1.1,"hi":1.2},{"d":"2019-08-25","lo":1.06,"hi":1.2},{"d":"2019-08-27","lo":1.08,"hi":1.2},{"d":"2019-08-29","lo":1.05,"hi":1.2},{"d":"2019-08-31","lo":1.09,"hi":1.2},
{"d":"2019-09-01","lo":1.06,"hi":1.2},{"d":"2019-09-03","lo":1.08,"hi":1.2},{"d":"2019-09-05","lo":1.06,"hi":1.19},{"d":"2019-09-07","lo":1.04,"hi":1.18},{"d":"2019-09-09","lo":1.02,"hi":1.18},{"d":"2019-09-11","lo":1.01,"hi":1.2},{"d":"2019-09-13","lo":1.08,"hi":1.2},{"d":"2019-09-15","lo":1.07,"hi":1.2},{"d":"2019-09-17","lo":1.09,"hi":1.2},{"d":"2019-09-19","lo":1.06,"hi":1.2},{"d":"2019-09-20","lo":1.0,"hi":1.2},{"d":"2019-09-21","lo":0.9,"hi":1.12},{"d":"2019-09-23","lo":0.82,"hi":1.02},{"d":"2019-09-25","lo":0.78,"hi":0.98},{"d":"2019-09-27","lo":0.76,"hi":0.94},{"d":"2019-09-29","lo":0.74,"hi":0.91},
{"d":"2019-10-01","lo":0.75,"hi":0.95},{"d":"2019-10-03","lo":0.73,"hi":0.93},{"d":"2019-10-05","lo":0.76,"hi":0.94},{"d":"2019-10-07","lo":0.74,"hi":0.89},{"d":"2019-10-08","lo":0.76,"hi":0.9},{"d":"2019-10-09","lo":0.82,"hi":1.08},{"d":"2019-10-10","lo":0.9,"hi":1.17},{"d":"2019-10-11","lo":1.02,"hi":1.2},{"d":"2019-10-13","lo":1.05,"hi":1.2},{"d":"2019-10-15","lo":1.08,"hi":1.2},{"d":"2019-10-17","lo":1.04,"hi":1.2},{"d":"2019-10-19","lo":1.09,"hi":1.2},{"d":"2019-10-21","lo":1.06,"hi":1.2},{"d":"2019-10-23","lo":1.1,"hi":1.2},{"d":"2019-10-25","lo":1.05,"hi":1.2},{"d":"2019-10-27","lo":1.08,"hi":1.2},{"d":"2019-10-29","lo":1.06,"hi":1.2},{"d":"2019-10-31","lo":1.09,"hi":1.2},
{"d":"2019-11-01","lo":1.05,"hi":1.2},{"d":"2019-11-03","lo":1.08,"hi":1.2},{"d":"2019-11-05","lo":1.1,"hi":1.2},{"d":"2019-11-07","lo":1.06,"hi":1.2},{"d":"2019-11-09","lo":1.04,"hi":1.2},{"d":"2019-11-11","lo":1.08,"hi":1.2},{"d":"2019-11-13","lo":1.05,"hi":1.2},{"d":"2019-11-15","lo":1.09,"hi":1.2},{"d":"2019-11-17","lo":1.06,"hi":1.2},{"d":"2019-11-19","lo":1.04,"hi":1.2},{"d":"2019-11-21","lo":1.07,"hi":1.2},{"d":"2019-11-23","lo":1.05,"hi":1.2},{"d":"2019-11-25","lo":1.03,"hi":1.2},{"d":"2019-11-27","lo":1.02,"hi":1.2},{"d":"2019-11-29","lo":1.04,"hi":1.2},
{"d":"2019-12-01","lo":1.02,"hi":1.2},{"d":"2019-12-03","lo":1.06,"hi":1.2},{"d":"2019-12-05","lo":1.08,"hi":1.2},{"d":"2019-12-07","lo":1.05,"hi":1.2},{"d":"2019-12-09","lo":1.02,"hi":1.2},{"d":"2019-12-10","lo":1.0,"hi":1.15},{"d":"2019-12-11","lo":1.06,"hi":1.2},{"d":"2019-12-13","lo":1.08,"hi":1.2},{"d":"2019-12-15","lo":1.05,"hi":1.2},{"d":"2019-12-17","lo":1.03,"hi":1.2},{"d":"2019-12-19","lo":1.07,"hi":1.2},{"d":"2019-12-21","lo":1.04,"hi":1.2},{"d":"2019-12-23","lo":1.08,"hi":1.2},{"d":"2019-12-25","lo":1.03,"hi":1.2},{"d":"2019-12-27","lo":1.05,"hi":1.2},{"d":"2019-12-29","lo":1.02,"hi":1.2},{"d":"2019-12-30","lo":0.93,"hi":1.15},{"d":"2019-12-31","lo":0.87,"hi":1.0},{"d":"2019-12-31T23:00","lo":0.87,"hi":0.9}
]
},
"encoding":{
"x":{"field":"d","type":"temporal","scale":{"domain":[{"year":2018,"month":12,"date":13,"hours":12},{"year":2020,"month":1,"date":18,"hours":12}]},
"axis":{"values":[{"year":2019,"month":1,"date":1},{"year":2019,"month":2,"date":1},{"year":2019,"month":3,"date":1},{"year":2019,"month":4,"date":1},{"year":2019,"month":5,"date":1},{"year":2019,"month":6,"date":1},{"year":2019,"month":7,"date":1},{"year":2019,"month":8,"date":1},{"year":2019,"month":9,"date":1},{"year":2019,"month":10,"date":1},{"year":2019,"month":11,"date":1},{"year":2019,"month":12,"date":1}],
"format":"%b","title":"Time [Months]","labelFontSize":18,"labelPadding":23,"labelBaseline":"alphabetic","labelFlush":false,"labelOverlap":false,"tickSize":6,"titleFontSize":19.3,"titleY":57,"titleBaseline":"alphabetic","domain":false,"grid":false}},
"y":{"field":"lo","type":"quantitative","scale":{"domain":[0.3168,1.2411],"nice":false,"zero":false},
"axis":{"values":[0.4,0.6,0.8,1.0,1.2],"format":".1f","title":"Battery charge [kWh]","labelFontSize":18,"labelPadding":10,"tickSize":6,"titleFontSize":19.3,"titleX":-61,"titleY":161,"titleAngle":-90,"titleBaseline":"alphabetic","titleAlign":"center","domain":false,"grid":false}},
"y2":{"field":"hi"}
},
"layer":[
{"data":{"name":"tv1"},"mark":{"type":"area"},
"encoding":{"color":{"datum":"TV 1","scale":{"domain":["TV 1","TV 2","Basic"],"range":["#1f77b4","#ff7f0e","#2ca02c"]},
"legend":{"title":null,"orient":"none","legendX":971,"legendY":215,"symbolType":"M-2,0H2","symbolSize":462,"symbolStrokeWidth":2.8,"rowPadding":4.5,"padding":5.7,"labelFontSize":18.5,"labelOffset":22.4,"symbolOffset":9,"strokeColor":"#d4d4d4","fillColor":"rgba(255,255,255,0.85)","cornerRadius":4,"labelColor":"#222",
"encode":{"symbols":{"update":{"stroke":{"scale":"color","field":"value"}}}}}}}},
{"data":{"name":"tv2"},"mark":{"type":"area"},"encoding":{"color":{"datum":"TV 2"}}},
{"data":{"name":"basic"},"mark":{"type":"area"},"encoding":{"color":{"datum":"Basic"}}}
],
"config":{
"font":"DejaVu Sans",
"view":{"stroke":"#222","strokeWidth":1.2},
"axis":{"tickColor":"#222","tickWidth":1.1,"labelColor":"#222","titleColor":"#222","labelFont":"DejaVu Sans","titleFont":"DejaVu Sans","titleFontWeight":"normal"},
"legend":{"labelFont":"DejaVu Sans"}
}
}
